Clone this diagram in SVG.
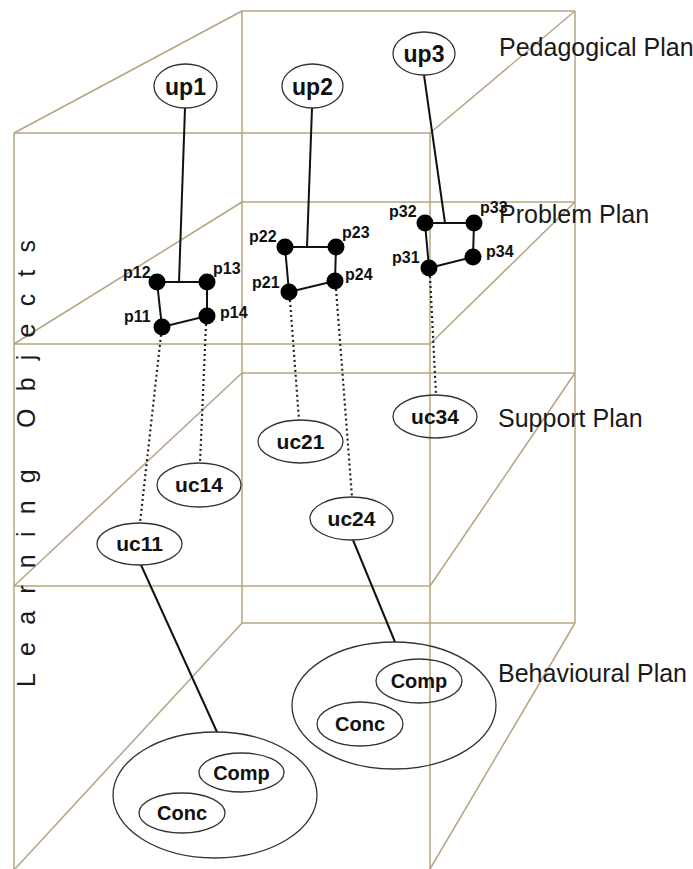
<svg xmlns="http://www.w3.org/2000/svg" width="693" height="869" viewBox="0 0 693 869">
  <style>
    .frame { stroke: #b4a482; stroke-width: 1.5; fill: none; }
    .node { fill: none; stroke: #333; stroke-width: 1.3; }
    .solid { stroke: #111; stroke-width: 2; fill: none; }
    .dotted { stroke: #222; stroke-width: 2.2; fill: none; stroke-dasharray: 2 3; }
    .dot { fill: #000; }
    .lbl { font-family: "Liberation Sans", Arial, sans-serif; font-weight: bold; fill: #111; text-anchor: middle; }
    .plab { font-family: "Liberation Sans", Arial, sans-serif; font-weight: bold; font-size: 16px; fill: #111; }
    .plane { font-family: "Liberation Sans", Arial, sans-serif; font-size: 25px; fill: #1a1a1a; }
  </style>

  <rect width="693" height="869" fill="#fff"/>

  <!-- layered planes in perspective -->
  <g id="frame" class="frame">
    <!-- verticals -->
    <line x1="14" y1="133" x2="14" y2="869"/>
    <line x1="430" y1="133" x2="430" y2="869"/>
    <line x1="242" y1="11" x2="242" y2="623"/>
    <line x1="575" y1="11" x2="575" y2="623"/>
    <!-- pedagogical plane -->
    <line x1="242" y1="11" x2="575" y2="11"/>
    <line x1="14" y1="133" x2="430" y2="133"/>
    <line x1="14" y1="133" x2="242" y2="11"/>
    <line x1="430" y1="133" x2="575" y2="11"/>
    <!-- problem plane -->
    <line x1="242" y1="202" x2="575" y2="202"/>
    <line x1="14" y1="344" x2="430" y2="344"/>
    <line x1="14" y1="344" x2="242" y2="202"/>
    <line x1="430" y1="344" x2="575" y2="202"/>
    <!-- support plane -->
    <line x1="242" y1="373" x2="575" y2="373"/>
    <line x1="14" y1="586" x2="430" y2="586"/>
    <line x1="14" y1="586" x2="242" y2="373"/>
    <line x1="430" y1="586" x2="575" y2="373"/>
    <!-- behavioural plane -->
    <line x1="242" y1="623" x2="575" y2="623"/>
    <line x1="14" y1="870" x2="242" y2="623"/>
    <line x1="430" y1="869" x2="575" y2="623"/>
  </g>

  <!-- plane titles -->
  <g id="titles">
    <text class="plane" x="499" y="56">Pedagogical Plan</text>
    <text class="plane" x="499" y="223">Problem Plan</text>
    <text class="plane" x="498" y="427">Support Plan</text>
    <text class="plane" x="498" y="682">Behavioural Plan</text>
    <text class="plane" font-size="24" letter-spacing="17.2" transform="translate(35,687) rotate(-90)">Learning Objects</text>
  </g>

  <!-- connectors -->
  <g id="connectors">
    <line class="solid" x1="185" y1="108" x2="179" y2="282"/>
    <line class="solid" x1="312" y1="108" x2="307" y2="247"/>
    <line class="solid" x1="424" y1="75" x2="445" y2="223"/>

    <path class="solid" d="M157,282 L207,282 L207,316 L162,327 Z"/>
    <path class="solid" d="M285,247 L336,247 L335,281 L289,292 Z"/>
    <path class="solid" d="M425,223 L474,223 L473,257 L429,268 Z"/>

    <line class="dotted" x1="161" y1="335" x2="140" y2="523"/>
    <line class="dotted" x1="206" y1="324" x2="200" y2="463"/>
    <line class="dotted" x1="290" y1="300" x2="299" y2="420"/>
    <line class="dotted" x1="336" y1="289" x2="352" y2="497"/>
    <line class="dotted" x1="430" y1="276" x2="436" y2="395"/>

    <line class="solid" x1="141" y1="565" x2="217" y2="732"/>
    <line class="solid" x1="353" y1="540" x2="395" y2="642"/>
  </g>

  <!-- pedagogical units -->
  <g id="up1">
    <ellipse class="node" cx="185.5" cy="86" rx="31.5" ry="22"/>
    <text class="lbl" font-size="23" x="185.5" y="95">up1</text>
  </g>
  <g id="up2">
    <ellipse class="node" cx="312.5" cy="86" rx="30.5" ry="22"/>
    <text class="lbl" font-size="23" x="312.5" y="95">up2</text>
  </g>
  <g id="up3">
    <ellipse class="node" cx="424" cy="53.5" rx="31" ry="21.5"/>
    <text class="lbl" font-size="23" x="424" y="62">up3</text>
  </g>

  <!-- problem points -->
  <g id="p11"><circle class="dot" cx="162" cy="327" r="8.5"/><text class="plab" x="124" y="322">p11</text></g>
  <g id="p12"><circle class="dot" cx="157" cy="282" r="8.5"/><text class="plab" x="123" y="278">p12</text></g>
  <g id="p13"><circle class="dot" cx="207" cy="282" r="8.5"/><text class="plab" x="213" y="274">p13</text></g>
  <g id="p14"><circle class="dot" cx="207" cy="316" r="8.5"/><text class="plab" x="220" y="318">p14</text></g>

  <g id="p21"><circle class="dot" cx="289" cy="292" r="8.5"/><text class="plab" x="252" y="288">p21</text></g>
  <g id="p22"><circle class="dot" cx="285" cy="247" r="8.5"/><text class="plab" x="249" y="242">p22</text></g>
  <g id="p23"><circle class="dot" cx="336" cy="247" r="8.5"/><text class="plab" x="342" y="238">p23</text></g>
  <g id="p24"><circle class="dot" cx="335" cy="281" r="8.5"/><text class="plab" x="345" y="280">p24</text></g>

  <g id="p31"><circle class="dot" cx="429" cy="268" r="8.5"/><text class="plab" x="392" y="263">p31</text></g>
  <g id="p32"><circle class="dot" cx="425" cy="223" r="8.5"/><text class="plab" x="389" y="217">p32</text></g>
  <g id="p33"><circle class="dot" cx="474" cy="223" r="8.5"/><text class="plab" x="480" y="213">p33</text></g>
  <g id="p34"><circle class="dot" cx="473" cy="257" r="8.5"/><text class="plab" x="486" y="257">p34</text></g>

  <!-- support units -->
  <g id="uc11">
    <ellipse class="node" cx="139.5" cy="544" rx="42.5" ry="21"/>
    <text class="lbl" font-size="21" x="139.5" y="551">uc11</text>
  </g>
  <g id="uc14">
    <ellipse class="node" cx="199" cy="485" rx="42" ry="22"/>
    <text class="lbl" font-size="21" x="199" y="492">uc14</text>
  </g>
  <g id="uc21">
    <ellipse class="node" cx="300.5" cy="441.5" rx="42.5" ry="21.5"/>
    <text class="lbl" font-size="21" x="300.5" y="448.5">uc21</text>
  </g>
  <g id="uc24">
    <ellipse class="node" cx="351.5" cy="518.5" rx="41.5" ry="21.5"/>
    <text class="lbl" font-size="21" x="351.5" y="525.5">uc24</text>
  </g>
  <g id="uc34">
    <ellipse class="node" cx="435" cy="416.5" rx="42" ry="21.5"/>
    <text class="lbl" font-size="21" x="435" y="423.5">uc34</text>
  </g>

  <!-- behavioural groups -->
  <g id="behaviour1">
    <ellipse class="node" cx="215" cy="795" rx="102" ry="63"/>
    <g id="comp1">
      <ellipse class="node" cx="241.5" cy="772.5" rx="42.5" ry="19.5"/>
      <text class="lbl" font-size="20" x="241.5" y="779.5">Comp</text>
    </g>
    <g id="conc1">
      <ellipse class="node" cx="182" cy="813" rx="43" ry="20"/>
      <text class="lbl" font-size="20" x="182" y="820">Conc</text>
    </g>
  </g>
  <g id="behaviour2">
    <ellipse class="node" cx="394" cy="705.5" rx="102" ry="63.5"/>
    <g id="comp2">
      <ellipse class="node" cx="419" cy="681" rx="43" ry="22"/>
      <text class="lbl" font-size="20" x="419" y="688">Comp</text>
    </g>
    <g id="conc2">
      <ellipse class="node" cx="360" cy="724" rx="43" ry="22"/>
      <text class="lbl" font-size="20" x="360" y="731">Conc</text>
    </g>
  </g>
</svg>
